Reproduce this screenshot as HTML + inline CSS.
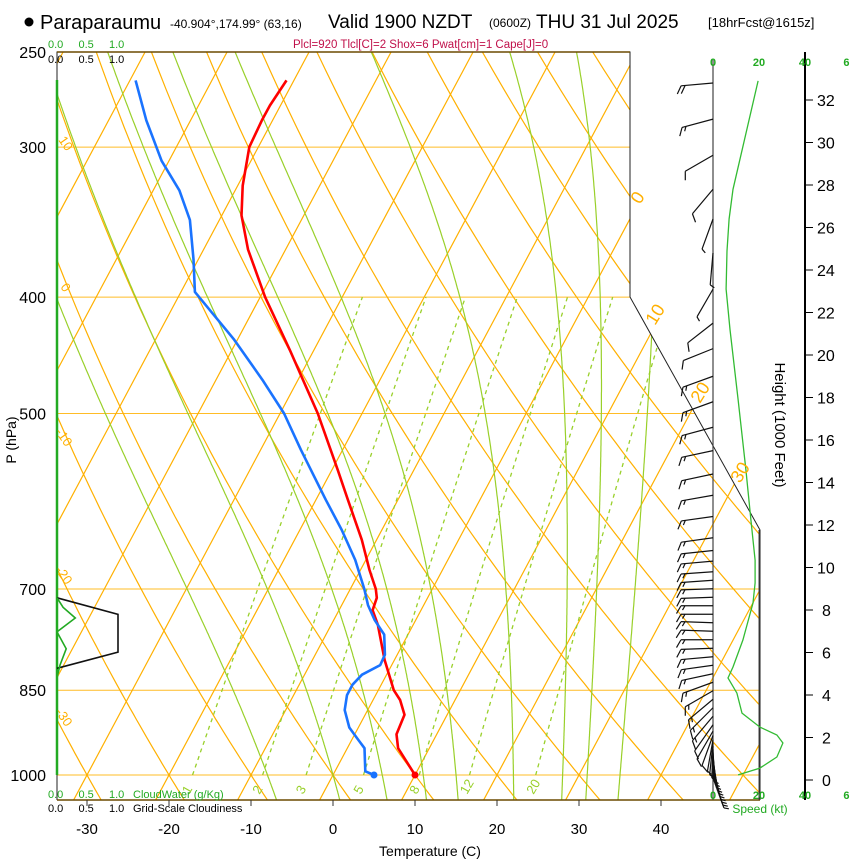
<!DOCTYPE html>
<html><head><meta charset="utf-8"><style>
html,body{margin:0;padding:0;background:#fff}
svg{display:block;font-family:"Liberation Sans",sans-serif}
</style></head><body>
<svg id="chart" width="850" height="860" viewBox="0 0 850 860">
<defs><clipPath id="plotclip"><polygon points="57,52 630,52 630,297 760,530 760,800 57,800"/></clipPath></defs>
<g id="header">
<circle cx="29" cy="22" r="4.5" fill="#000"/>
<text x="40" y="29" font-size="20">Paraparaumu</text>
<text x="170" y="28" font-size="12">-40.904°,174.99° (63,16)</text>
<text x="328" y="28" font-size="19">Valid 1900 NZDT</text>
<text x="489" y="27" font-size="12">(0600Z)</text>
<text x="536" y="28" font-size="19">THU 31 Jul 2025</text>
<text x="708" y="27" font-size="13">[18hrFcst@1615z]</text>
<text x="293" y="48" font-size="11.5" fill="#c0104a">Plcl=920 Tlcl[C]=2 Shox=6 Pwat[cm]=1 Cape[J]=0</text>
</g>
<g id="grid" clip-path="url(#plotclip)"></g>
<g id="frame"></g>
<g id="profiles"></g>
<g id="side"></g>
<g id="labels"></g>
</svg>
<script>
// ---------- data ----------
const tempP = [1000,950,925,891,866,850,802,750,729,712,700,675,637,590,557,500,443,400,365,342,323,300,285,277,264];
const tempT = [10.0,6.2,5.1,4.8,3.3,1.9,-1.2,-4.3,-5.9,-6.2,-6.9,-8.9,-11.8,-16.1,-19.3,-25.4,-32.9,-39.4,-44.6,-47.6,-49.4,-51.1,-51.3,-51.3,-50.9];
const dewP = [1000,993,950,935,913,883,858,841,825,810,794,764,743,722,700,662,625,590,536,500,469,434,396,372,345,326,308,285,264];
const dewT = [5.0,3.7,2.1,0.8,-1.1,-2.8,-3.5,-3.5,-3.0,-1.4,-1.5,-2.9,-5.0,-6.8,-8.3,-11.3,-14.9,-18.8,-25.1,-29.5,-34.3,-40.4,-48.3,-50.6,-53.6,-56.8,-60.9,-65.4,-69.3];
const pressureTicks = [250,300,400,500,700,850,1000];
const tempTicks = [-30,-20,-10,0,10,20,30,40];
const isotherms = [-120,-110,-100,-90,-80,-70,-60,-50,-40,-30,-20,-10,0,10,20,30,40,50];
const dryAdiabats = [-40,-30,-20,-10,0,10,20,30,40,50,60,70,80,90,100,110,120,130,140,150,160];
const moistAdiabats = [-8,0,6,11,15,22,28,31,35];
const mixRatios = [1,2,3,5,8,12,20];
const heightTicks = [0,2,4,6,8,10,12,14,16,18,20,22,24,26,28,30,32];
const speedH = [0.24,0.56,1.08,1.74,2.12,2.49,3.15,4.09,4.8,5.32,6.59,8.33,9.27,10.35,12.2,14.6,17.9,21.2,23.1,24.9,26.4,27.8,32.9];
const speedKt = [10.9,20.4,27.8,30.4,27.8,20.4,12.6,10.4,6.5,8.7,13.0,17.4,18.3,18.3,16.5,14.3,10.9,7.4,5.7,6.1,7.0,8.7,19.6];
const barbH = [0.1,0.25,0.4,0.55,0.7,0.85,1.0,1.15,1.3,1.45,1.6,1.75,1.9,2.1,2.3,2.6,3.0,3.4,3.8,4.2,4.6,5.0,5.4,5.8,6.2,6.6,7.0,7.4,7.8,8.2,8.6,9.0,9.4,9.8,10.3,10.8,11.4,12.4,13.4,14.4,15.5,16.6,17.8,19.0,20.3,21.5,23.1,24.8,26.4,27.8,29.4,31.1,32.8];
const barbDir = [160,162,164,166,168,170,172,174,176,178,182,186,190,200,210,215,220,225,230,240,250,258,262,265,268,270,272,272,270,270,268,268,266,266,265,264,262,262,260,258,258,255,250,250,248,232,210,185,200,220,240,255,265];
const barbSpd = [5,5,5,5,5,5,5,5,5,5,5,5,5,10,10,10,15,15,15,15,15,15,15,15,15,15,15,15,15,15,15,15,15,15,15,15,15,15,15,15,15,15,15,15,10,10,5,5,5,10,10,15,20];
const cloudP = [712,735,760,790,815];
const cloudFrac = [0,1,1,1,0];
const cwP = [712,725,740,760,785,810,830];
const cwVal = [0,0.1,0.3,0,0.15,0.05,0];

// ---------- scales ----------
const NS='http://www.w3.org/2000/svg';
const yP = p => 52 + 723*Math.log(p/250)/Math.log(4);
const xT = (T,p) => 333 + 8.2*T + (775 - yP(p))*0.534;
const yH = h => 780 - h*21.25;
const xS = s => 713 + s*2.3;
const xC = c => 57 + c*61;
function mk(parent,tag,attrs){const e=document.createElementNS(NS,tag);for(const k in attrs)e.setAttribute(k,attrs[k]);parent.appendChild(e);return e;}
const grid=document.getElementById('grid'),frame=document.getElementById('frame'),prof=document.getElementById('profiles'),side=document.getElementById('side'),labels=document.getElementById('labels');
const OR='#ffb000', GR='#99d02a';
const PBOT=1049;

pressureTicks.forEach(p=>{
  const l=mk(grid,'line',{x1:57,x2:760,y1:yP(p),y2:yP(p),stroke:OR,'stroke-width':1,'stroke-opacity':0.85});
  
  
});
isotherms.forEach(T=>{
  const l=mk(grid,'line',{x1:xT(T,PBOT),y1:yP(PBOT),x2:xT(T,250),y2:yP(250),stroke:OR,'stroke-width':1.2});
  
  
});
dryAdiabats.forEach(th=>{
  let d='';
  for(let p=PBOT;p>=240;p-=10){const T=(th+273.15)*Math.pow(p/1000,0.286)-273.15;d+=(d?'L':'M')+xT(T,p).toFixed(1)+','+yP(p).toFixed(1);}
  const e=mk(grid,'path',{d:d,fill:'none',stroke:OR,'stroke-width':1.2});
  
  
});
function es(Tc){return 6.112*Math.exp(17.67*Tc/(Tc+243.5));}
moistAdiabats.forEach(tw=>{
  let T=tw+273.15,p=1000;let pts=[];
  const step=(T,p,dp)=>{const Tc=T-273.15;const e=es(Tc);const rs=0.622*e/(p-e);const Rd=287,cp=1004,L=2.5e6;
    const dTdp=(1/p)*(Rd*T+L*rs)/(cp+L*L*rs*0.622/(Rd*T*T));return T+dTdp*dp;};
  let Tb=T;for(let pp=1000;pp<PBOT;pp+=1){Tb=step(Tb,pp,1);}
  T=Tb;p=PBOT;
  while(p>=245){pts.push([xT(T-273.15,p),yP(p)]);T=step(T,p,-2);p-=2;}
  const d=pts.map((q,i)=>(i?'L':'M')+q[0].toFixed(1)+','+q[1].toFixed(1)).join('');
  const e=mk(grid,'path',{d:d,fill:'none',stroke:GR,'stroke-width':1.2});
  
  
});
mixRatios.forEach(w=>{
  let d='';
  for(let p=1000;p>=400;p-=10){const e=w*p/(622+w);const l=Math.log(e/6.112);const Td=243.5*l/(17.67-l);d+=(d?'L':'M')+xT(Td,p).toFixed(1)+','+yP(p).toFixed(1);}
  const e=mk(grid,'path',{d:d,fill:'none',stroke:GR,'stroke-width':1.3,'stroke-dasharray':'4,4'});
  
  
  const e2=w*1030/(622+w);const l2=Math.log(e2/6.112);const Td2=243.5*l2/(17.67-l2);
  const t=mk(labels,'text',{x:xT(Td2,1030)-3,y:yP(1030)+4,'font-size':13,fill:GR,transform:`rotate(-60 ${xT(Td2,1030)} ${yP(1030)})`});
  t.textContent=w;
  
  
});

mk(frame,'polyline',{points:'57,800 57,52 630,52 630,297 760,530 760,800',fill:'none',stroke:'#222','stroke-width':1});
mk(frame,'line',{x1:57,y1:52,x2:630,y2:52,stroke:'#6b4a00','stroke-width':1.5});
mk(frame,'line',{x1:57,y1:800,x2:760,y2:800,stroke:'#6b4a00','stroke-width':1.5});
mk(frame,'line',{x1:57,y1:80,x2:57,y2:775,stroke:'#22aa22','stroke-width':2.5});
const fb=frame.lastChild;  
tempTicks.forEach(T=>{mk(frame,'line',{x1:333+8.2*T,x2:333+8.2*T,y1:800,y2:806,stroke:'#333'});});

let cd='';cloudP.forEach((p,i)=>{cd+=(i?'L':'M')+xC(cloudFrac[i]).toFixed(1)+','+yP(p).toFixed(1);});
const cl=mk(prof,'path',{d:cd,fill:'none',stroke:'#111','stroke-width':1.6});


let cw='';cwP.forEach((p,i)=>{cw+=(i?'L':'M')+xC(cwVal[i]).toFixed(1)+','+yP(p).toFixed(1);});
const cwl=mk(prof,'path',{d:cw,fill:'none',stroke:'#22aa22','stroke-width':1.6});



function profile(P,T,col,name){
  const d=P.map((p,i)=>(i?'L':'M')+xT(T[i],p).toFixed(1)+','+yP(p).toFixed(1)).join('');
  const e=mk(prof,'path',{d:d,fill:'none',stroke:col,'stroke-width':2.6,'stroke-linejoin':'round'});
  
  
  const c=mk(prof,'circle',{cx:xT(T[0],P[0]),cy:yP(P[0]),r:3.5,fill:col});
  
  
}
profile(tempP,tempT,'#ff0000','temperature');
profile(dewP,dewT,'#1a73ff','dewpoint');

mk(side,'line',{x1:713,y1:60,x2:713,y2:800,stroke:'#444','stroke-width':1.2});
mk(side,'line',{x1:759,y1:530,x2:759,y2:800,stroke:'#444','stroke-width':1});
mk(side,'line',{x1:805,y1:52,x2:805,y2:800,stroke:'#000','stroke-width':2});
heightTicks.forEach(h=>{
  mk(side,'line',{x1:805,x2:813,y1:yH(h),y2:yH(h),stroke:'#000'});
  const t=mk(side,'text',{x:h<10?822:817,y:yH(h)+6,'font-size':16});
  t.textContent=h;
  
  
});
const sd=speedH.map((h,i)=>(i?'L':'M')+xS(speedKt[i]).toFixed(1)+','+yH(h).toFixed(1)).join('');
const sp=mk(side,'path',{d:sd,fill:'none',stroke:'#33bb33','stroke-width':1.3});


barbH.forEach((h,i)=>{
  const g=mk(side,'g',{stroke:'#111','stroke-width':1.2,fill:'none'});
  
  
  const a=barbDir[i]*Math.PI/180;const ux=Math.sin(a),uy=-Math.cos(a);
  const bx=713,by=yH(h),L=32;const tx=bx+ux*L,ty=by+uy*L;
  mk(g,'line',{x1:bx,y1:by,x2:tx,y2:ty});
  const nx=-uy,ny=ux;
  const fx=0.5*ux+0.87*(-nx), fy=0.5*uy+0.87*(-ny);
  let s=barbSpd[i],k=0;
  while(s>=10){const px=tx-ux*k*4,py=ty-uy*k*4;mk(g,'line',{x1:px,y1:py,x2:px+fx*9,y2:py+fy*9});s-=10;k++;}
  if(s>=5){const px=tx-ux*k*4,py=ty-uy*k*4;mk(g,'line',{x1:px,y1:py,x2:px+fx*5,y2:py+fy*5});}
});

function txt(x,y,s,str,attrs,name){const t=mk(labels,'text',Object.assign({x:x,y:y,'font-size':s},attrs||{}));t.textContent=str;return t;}
pressureTicks.forEach(p=>txt(46,yP(p)+6,16,p,{'text-anchor':'end'},'pressure-tick-'+p));
tempTicks.forEach(T=>txt(333+8.2*T,834,15,T,{'text-anchor':'middle'},'temp-tick-'+T));
txt(430,856,14,'Temperature (C)',{'text-anchor':'middle'},'x-axis-title');
txt(16,440,14,'P (hPa)',{'text-anchor':'middle',transform:'rotate(-90 16 440)'},'y-axis-title');
txt(775,425,15,'Height (1000 Feet)',{'text-anchor':'middle',transform:'rotate(90 775 425)'},'height-axis-title');
[[0,'0.0'],[0.5,'0.5'],[1,'1.0']].forEach(([v,s])=>{
  txt(xC(v)-9,48,11,s,{fill:'#22aa22'},'cloudwater-top-tick');
  txt(xC(v)-9,63,11,s,{},'cloudiness-top-tick');
  txt(xC(v)-9,798,11,s,{fill:'#22aa22'},'cloudwater-bottom-tick');
  txt(xC(v)-9,812,11,s,{},'cloudiness-bottom-tick');
});
txt(133,798,11,'CloudWater (g/Kg)',{fill:'#22aa22'},'cloudwater-label');
txt(133,812,11,'Grid-Scale Cloudiness',{},'cloudiness-label');
[[0,'0'],[20,'20'],[40,'40'],[58,'6']].forEach(([v,s])=>{
  txt(xS(v),66,11,s,{fill:'#22aa22','text-anchor':'middle','font-weight':'bold'},'speed-top-tick');
  txt(xS(v),799,11,s,{fill:'#22aa22','text-anchor':'middle','font-weight':'bold'},'speed-bottom-tick');
});
txt(760,813,12,'Speed (kt)',{fill:'#22aa22','text-anchor':'middle'},'speed-axis-title');
[[640,205,'0'],[655,326,'10'],[700,404,'20'],[740,484,'30']].forEach(([x,y,s])=>txt(x,y,18,s,{fill:OR,transform:`rotate(-58 ${x} ${y})`},'isotherm-label-'+s));
[[58,140,'10'],[60,287,'0'],[55,432,'-10'],[55,570,'-20'],[55,712,'-30']].forEach(([x,y,s])=>txt(x,y,13,s,{fill:OR,transform:`rotate(55 ${x} ${y})`},'dry-adiabat-label-'+s));
</script>
</body></html>
